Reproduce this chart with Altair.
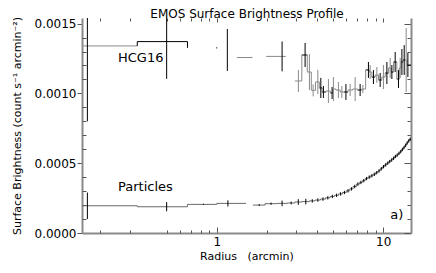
import altair as alt
import pandas as pd

# ---------------- data ----------------
# HCG16 histogram bins (arcmin, counts s^-1 arcmin^-2)
hcg_lo = [0.10, 0.333, 0.667, 1.14, 1.32, 1.98,
          2.95, 3.245, 3.50, 3.70, 3.92, 4.135, 4.298, 4.532, 4.812, 4.98, 5.205, 5.515, 5.81, 6.153,
          6.56, 7.03, 7.41, 7.85, 8.254, 8.547, 8.954, 9.38, 9.817, 10.285, 10.775, 11.15, 11.545,
          12.085, 12.51, 12.81, 13.17, 13.565, 13.915]
hcg_hi = [0.333, 0.667, 1.0, 1.18, 1.64, 2.60,
          3.245, 3.50, 3.70, 3.92, 4.135, 4.298, 4.532, 4.812, 4.98, 5.205, 5.515, 5.81, 6.153, 6.56,
          7.03, 7.41, 7.85, 8.254, 8.547, 8.954, 9.38, 9.817, 10.285, 10.775, 11.15, 11.545, 12.085,
          12.51, 12.81, 13.17, 13.565, 13.915, 14.7]
hcg_mid = [0.167, 0.50, 1.00, 1.158, 1.48, 2.47,
           3.095, 3.396, 3.605, 3.795, 4.05, 4.221, 4.375, 4.690, 4.935, 5.025, 5.385, 5.645, 5.974,
           6.333, 6.786, 7.272, 7.551, 8.157, 8.351, 8.743, 9.165, 9.594, 10.04, 10.53, 11.02, 11.28,
           11.81, 12.36, 12.66, 12.96, 13.38, 13.75, 14.08]
hcg_val = [0.001340, 0.001371, 0.001326, 0.001311, 0.001257, 0.001265,
           0.001089, 0.001275, 0.001153, 0.001022, 0.001082, 0.001039, 0.001010, 0.001017, 0.001003,
           0.001031, 0.001024, 0.001010, 0.001010, 0.001024, 0.001031, 0.001024, 0.001031, 0.001168,
           0.001153, 0.001117, 0.001132, 0.001096, 0.001117, 0.001146, 0.001182, 0.001153, 0.001225,
           0.001103, 0.001182, 0.001225, 0.001239, 0.001239, 0.001203]
hcg_err = [0.00054, 0.000267, 0.000004, 0.00015, 0.0, 0.000107,
           0.000079, 0.000086, 0.000129, 0.000043, 0.000086, 0.000072, 0.000043, 0.000086, 0.000043,
           0.000086, 0.000057, 0.000043, 0.000057, 0.000043, 0.000086, 0.000043, 0.000029, 0.000057,
           0.000050, 0.000050, 0.000057, 0.000050, 0.000086, 0.000079, 0.000072, 0.000050, 0.000072,
           0.000064, 0.000072, 0.000093, 0.000107, 0.000229, 0.000086]
# step colour ("" = no step drawn), error-bar colour
hcg_scol = ["g", "k", "", "", "g", "g",
            "g", "k", "g", "g", "g", "k", "k", "g", "k", "g", "g", "g", "k", "g", "g", "k", "g",
            "k", "g", "k", "g", "k", "g", "k", "g", "k", "k", "k", "g", "k", "k", "g", "k"]
hcg_ecol = ["k", "k", "k", "k", "k", "k",
            "g", "k", "g", "g", "g", "k", "k", "g", "k", "g", "g", "g", "k", "g", "g", "k", "g",
            "k", "g", "k", "g", "k", "g", "k", "g", "k", "k", "k", "g", "k", "k", "g", "k"]
# value that the step joins at the bin's upper edge (None = no join), and the join colour
hcg_join = [0.001371, 0.001326, None, None, None, None] + [
    0.001275, 0.001153, 0.001022, 0.001082, 0.001039, 0.001010, 0.001017, 0.001003, 0.001031,
    0.001024, 0.001010, 0.001010, 0.001024, 0.001031, 0.001024, 0.001031, 0.001168, 0.001153,
    0.001117, 0.001132, 0.001096, 0.001117, 0.001146, 0.001182, 0.001153, 0.001225, 0.001103,
    0.001182, 0.001225, 0.001239, 0.001239, 0.001203, None]
hcg_jcol = ["k", "k", "", "", "", ""] + ["g"] * 33

# Particle background bins
par_lo = [0.10, 0.333, 0.667, 1.0, 1.65, 1.95, 2.30, 2.65, 2.95, 3.25,
          3.6, 3.9, 4.2, 4.5, 4.8, 5.1, 5.4, 5.7, 6.0, 6.3, 6.6, 6.9, 7.2, 7.5, 7.8, 8.1, 8.4, 8.7,
          9.0, 9.3, 9.6, 9.9, 10.2, 10.5, 10.8, 11.1, 11.4, 11.7, 12.0, 12.3, 12.6, 12.9, 13.2, 13.5,
          13.8, 14.1, 14.4]
par_hi = [0.333, 0.667, 1.0, 1.5, 1.95, 2.30, 2.65, 2.95, 3.25, 3.6,
          3.9, 4.2, 4.5, 4.8, 5.1, 5.4, 5.7, 6.0, 6.3, 6.6, 6.9, 7.2, 7.5, 7.8, 8.1, 8.4, 8.7, 9.0,
          9.3, 9.6, 9.9, 10.2, 10.5, 10.8, 11.1, 11.4, 11.7, 12.0, 12.3, 12.6, 12.9, 13.2, 13.5, 13.8,
          14.1, 14.4, 14.7]
par_mid = [0.167, 0.50, 0.833, 1.167, 1.80, 2.12, 2.47, 2.80, 3.09, 3.43,
           3.75, 4.05, 4.35, 4.65, 4.95, 5.25, 5.55, 5.85, 6.15, 6.45, 6.75, 7.05, 7.35, 7.65, 7.95,
           8.25, 8.55, 8.85, 9.15, 9.45, 9.75, 10.05, 10.35, 10.65, 10.95, 11.25, 11.55, 11.85, 12.15,
           12.45, 12.75, 13.05, 13.35, 13.65, 13.95, 14.25, 14.55]
par_val = [0.000195, 0.000188, 0.000205, 0.000212, 0.000200, 0.000210, 0.000212, 0.000215, 0.000222,
           0.000225, 0.000230, 0.000236, 0.000243, 0.000252, 0.000262, 0.000270, 0.000280, 0.000290,
           0.000302, 0.000316, 0.000333, 0.000350, 0.000362, 0.000375, 0.000390, 0.000400, 0.000410,
           0.000420, 0.000432, 0.000445, 0.000460, 0.000475, 0.000488, 0.000500, 0.000512, 0.000523,
           0.000535, 0.000548, 0.000558, 0.000570, 0.000583, 0.000598, 0.000612, 0.000628, 0.000645,
           0.000660, 0.000672]
par_err = [0.000095, 0.000033, 0.000004, 0.000022, 0.000006, 0.000008, 0.000020, 0.000010, 0.000020,
           0.000020] + [0.000012] * 37
par_seg = [1, 1, 1, 1] + [2] * 43

x_major = [1, 10]
x_minor = [0.2, 0.3, 0.5, 0.6, 0.7, 0.8, 0.9, 2, 3, 4, 5, 6, 7, 8, 9]
y_major = [0.0, 0.0005, 0.0010, 0.0015]
y_minor = [0.0001, 0.0002, 0.0003, 0.0004, 0.0006, 0.0007, 0.0008, 0.0009,
           0.0011, 0.0012, 0.0013, 0.0014]

chart_title = "EMOS Surface Brightness Profile"
label_text = ["HCG16", "Particles", "a)"]
label_x = [0.255, 0.255, 13.2]
label_y = [0.001254, 0.000326, 0.000129]
label_align = ["left", "left", "right"]

# ---------------- tables ----------------
def step_table(lo, hi, val, seg, col):
    rows = []
    n = len(lo)
    for s in sorted(set(seg)):
        idx = sorted([i for i in range(n) if seg[i] == s], key=lambda i: lo[i])
        for i in idx:
            rows.append({"x": lo[i], "y": val[i], "g": f"s{s}", "c": col})
        rows.append({"x": hi[idx[-1]], "y": val[idx[-1]], "g": f"s{s}", "c": col})
    return pd.DataFrame(rows)

hcg = pd.DataFrame({"lo": hcg_lo, "hi": hcg_hi, "mid": hcg_mid, "v": hcg_val, "e": hcg_err,
                    "sc": hcg_scol, "ec": hcg_ecol, "j": hcg_join, "jc": hcg_jcol})
hcg["elo"] = hcg["v"] - hcg["e"]
hcg["ehi"] = hcg["v"] + hcg["e"]
hcg_h = hcg[hcg["sc"] != ""].rename(columns={"sc": "c"})
hcg_e = hcg[hcg["e"] > 0].rename(columns={"ec": "c"})
hcg_j = hcg[hcg["j"].notna()].rename(columns={"jc": "c"})

par_steps = step_table(par_lo, par_hi, par_val, par_seg, "p")
par_errs = pd.DataFrame({"x": par_mid,
                         "lo": [v - e for v, e in zip(par_val, par_err)],
                         "hi": [v + e for v, e in zip(par_val, par_err)],
                         "c": ["k"] * len(par_mid)})
labels = pd.DataFrame({"x": label_x, "y": label_y, "t": label_text, "a": label_align})

# ---------------- scales & axes ----------------
FONT = "DejaVu Sans"
xs = alt.Scale(type="log", domain=[0.155, 14.7], nice=False)
ys = alt.Scale(domain=[0, 0.00154], nice=False, zero=False)
cs = alt.Scale(domain=["k", "g", "p"], range=["#000000", "#8a8a8a", "#6a6a6a"])
TICK = "#555555"
FRAME = "#8a8a8a"

def ax(orient, values, size, inward=True, labels=False, title=None, fmt=None, **kw):
    args = dict(orient=orient, values=values, tickSize=size, offset=-size if inward else 0,
                domain=False, grid=False, labels=labels, tickColor=TICK, tickWidth=1)
    if labels:
        args.update(labelFont=FONT, labelFontSize=12, labelColor="black")
    if fmt:
        args["format"] = fmt
    if title:
        args.update(title=title, titleFont=FONT, titleFontWeight="normal", titleColor="black")
    else:
        args["title"] = None
    args.update(kw)
    return alt.Axis(**args)

def frame_axis(orient):
    return alt.Axis(orient=orient, domain=True, domainColor=FRAME, domainWidth=2, ticks=False,
                    labels=False, grid=False, title=None)

ax_b_major = ax("bottom", x_major, 6, labels=True, fmt="~g", labelPadding=3,
                title="Radius\u00a0\u00a0\u00a0(arcmin)", titleFontSize=11, titlePadding=3)
ax_b_minor = ax("bottom", x_minor, 3)
# the top axis carries the chart title
ax_t_major = ax("top", x_major, 4, title=chart_title, titleFontSize=12, titleY=-5,
                titleBaseline="alphabetic", titleAnchor="middle")
ax_t_minor = ax("top", x_minor, 3)
ax_l_major = ax("left", y_major, 5, inward=False, labels=True, fmt=".4f", labelPadding=1,
                title="Surface Brightness (count s\u207b\u00b9 arcmin\u207b\u00b2)", titleFontSize=11,
                titlePadding=12)
ax_l_minor = ax("left", y_minor, 4)
ax_r_major = ax("right", y_major, 7)
ax_r_minor = ax("right", y_minor, 4)

color = alt.Color("c:N", scale=cs, legend=None)

hcg_step_layer = alt.Chart(hcg_h).mark_rule(clip=True, strokeWidth=1).encode(
    x=alt.X("lo:Q", scale=xs, axis=ax_b_major), x2="hi:Q",
    y=alt.Y("v:Q", scale=ys, axis=ax_l_major),
    color=color)

hcg_join_layer = alt.Chart(hcg_j).mark_rule(clip=True, strokeWidth=1).encode(
    x=alt.X("hi:Q", scale=xs, axis=frame_axis("bottom")),
    y=alt.Y("v:Q", scale=ys, axis=frame_axis("left")), y2="j:Q",
    color=color)

hcg_err_layer = alt.Chart(hcg_e).mark_rule(clip=True, strokeWidth=1).encode(
    x=alt.X("mid:Q", scale=xs, axis=ax_b_minor),
    y=alt.Y("elo:Q", scale=ys, axis=ax_l_minor), y2="ehi:Q",
    color=color)

par_step_layer = alt.Chart(par_steps).mark_line(interpolate="step-after", clip=True, strokeWidth=1).encode(
    x=alt.X("x:Q", scale=xs, axis=ax_t_major),
    y=alt.Y("y:Q", scale=ys, axis=ax_r_major),
    color=color, detail="g:N")

par_err_layer = alt.Chart(par_errs).mark_rule(clip=True, strokeWidth=1).encode(
    x=alt.X("x:Q", scale=xs, axis=ax_t_minor),
    y=alt.Y("lo:Q", scale=ys, axis=ax_r_minor), y2="hi:Q",
    color=color)

text_left = alt.Chart(labels[labels["a"] == "left"]).mark_text(
    font=FONT, fontSize=13, baseline="middle", align="left", color="black").encode(
    x=alt.X("x:Q", scale=xs, axis=None),
    y=alt.Y("y:Q", scale=ys, axis=frame_axis("right")), text="t:N")
text_right = alt.Chart(labels[labels["a"] == "right"]).mark_text(
    font=FONT, fontSize=13, baseline="middle", align="right", color="black").encode(
    x=alt.X("x:Q", scale=xs, axis=None), y=alt.Y("y:Q", scale=ys, axis=None), text="t:N")

chart = alt.layer(
    par_step_layer, par_err_layer, hcg_step_layer, hcg_join_layer, hcg_err_layer, text_left, text_right
).resolve_axis(x="independent", y="independent").properties(
    width=329, height=215,
    autosize=alt.AutoSizeParams(type="none"),
    padding={"left": 74, "top": 10, "right": 17, "bottom": 32},
).configure_view(strokeWidth=0)

chart.save("out.html", embed_options={"renderer": "svg", "actions": False})
